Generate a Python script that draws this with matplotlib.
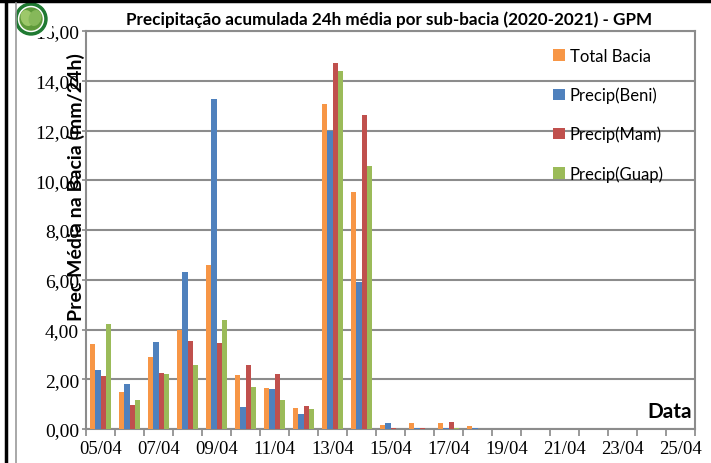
import numpy as np
import matplotlib
matplotlib.use("Agg")
import matplotlib.pyplot as plt
from matplotlib.patches import Ellipse, Rectangle
from matplotlib.lines import Line2D

# dados (mm/24h)
datas = ["05/04", "06/04", "07/04", "08/04", "09/04", "10/04", "11/04", "12/04",
         "13/04", "14/04", "15/04", "16/04", "17/04", "18/04", "19/04", "20/04",
         "21/04", "22/04", "23/04", "24/04", "25/04"]
total_bacia = [3.42, 1.50, 2.91, 3.98, 6.61, 2.18, 1.65, 0.83, 13.08, 9.51,
               0.15, 0.25, 0.24, 0.12, 0, 0, 0, 0, 0, 0, 0]
precip_beni = [2.37, 1.81, 3.48, 6.33, 13.27, 0.87, 1.59, 0.62, 11.99, 5.90,
               0.24, 0.05, 0.03, 0.04, 0, 0, 0, 0, 0, 0, 0]
precip_mam = [2.14, 0.96, 2.25, 3.55, 3.44, 2.59, 2.22, 0.94, 14.71, 12.64,
              0.03, 0.03, 0.29, 0.0, 0, 0, 0, 0, 0, 0, 0]
precip_guap = [4.22, 1.15, 2.22, 2.59, 4.40, 1.67, 1.17, 0.82, 14.41, 10.59,
               0.0, 0.01, 0.03, 0.0, 0, 0, 0, 0, 0, 0, 0]

series = [("Total Bacia", total_bacia, "#F79646"),
          ("Precip(Beni)", precip_beni, "#4F81BD"),
          ("Precip(Mam)", precip_mam, "#C0504D"),
          ("Precip(Guap)", precip_guap, "#9BBB59")]

W, H = 711, 464
fig = plt.figure(figsize=(W / 100, H / 100), dpi=100)

def fx(px):
    return px / W

def fy(py):
    return 1 - py / H

ax = fig.add_axes([fx(86), fy(430), fx(695) - fx(86), fy(32) - fy(430)])

x = np.arange(len(datas))
bw = 0.1875
for i, (nome, vals, cor) in enumerate(series):
    ax.bar(x + (i - 1.5) * bw, vals, bw, color=cor, label=nome, zorder=3)

ax.set_xlim(-0.5, len(datas) - 0.5)
ax.set_ylim(0, 16)
ax.set_yticks(np.arange(0, 17, 2))
ax.set_yticklabels(["%d,00" % v for v in range(0, 17, 2)],
                   family="Liberation Serif", fontsize=14)
ax.set_xticks(x[::2])
ax.set_xticklabels(datas[::2], family="Liberation Serif", fontsize=13.5)
ax.set_xticks(np.arange(-0.5, len(datas), 1), minor=True)
ax.tick_params(axis="x", which="major", length=0, pad=8)
ax.tick_params(axis="x", which="minor", length=5, color="#888888", width=1.2)
ax.tick_params(axis="y", length=3, color="#888888", width=1.2, pad=2)

ax.grid(axis="y", color="#8c8c8c", linewidth=1.5, zorder=0)
for s in ax.spines.values():
    s.set_color("#8c8c8c")
    s.set_linewidth(1.5)

leg = ax.legend(loc="upper left", bbox_to_anchor=(0.742, 0.995), frameon=False,
                prop={"family": "Lato", "size": 12}, handlelength=0.7,
                handleheight=0.7, handletextpad=0.3, labelspacing=1.36)

ax.text(0.995, 0.045, "Data", transform=ax.transAxes, ha="right", va="center",
        family="Lato", fontweight="bold", fontsize=15)

fig.text(fx(389), fy(20), "Precipitação acumulada 24h média por sub-bacia (2020-2021) - GPM",
         ha="center", va="center", family="Lato", fontweight="bold", fontsize=12.3)
fig.text(fx(76), fy(187), "Prec Média na Bacia (mm/24h)", rotation=90,
         ha="center", va="center", family="Lato", fontweight="bold", fontsize=14)

# bordas do documento
fig.add_artist(Line2D([0, 1], [fy(1.5), fy(1.5)], color="black", linewidth=2.5))
fig.add_artist(Line2D([fx(6), fx(6)], [0, 1], color="black", linewidth=2.5))
fig.add_artist(Line2D([fx(16), fx(16)], [0, fy(4)], color="#9a9a9a", linewidth=1.2))

# logo simplificado
lax = fig.add_axes([fx(15), fy(38), fx(52) - fx(15), fy(3) - fy(38)])
lax.set_xlim(0, 37)
lax.set_ylim(0, 35)
lax.axis("off")
lax.add_patch(Rectangle((0, 0), 37, 35, color="white"))
lax.add_patch(Ellipse((16, 18), 32, 32, color="#1f7a32"))
lax.add_patch(Ellipse((16, 18), 25, 25, color="white"))
lax.add_patch(Ellipse((16, 18), 22, 22, color="#5e9a3a"))
lax.add_patch(Ellipse((12, 19), 11, 15, angle=20, color="#9dc86a"))
lax.add_patch(Ellipse((20, 19), 11, 15, angle=-20, color="#86b85a"))

fig.savefig("out.png", dpi=100)
